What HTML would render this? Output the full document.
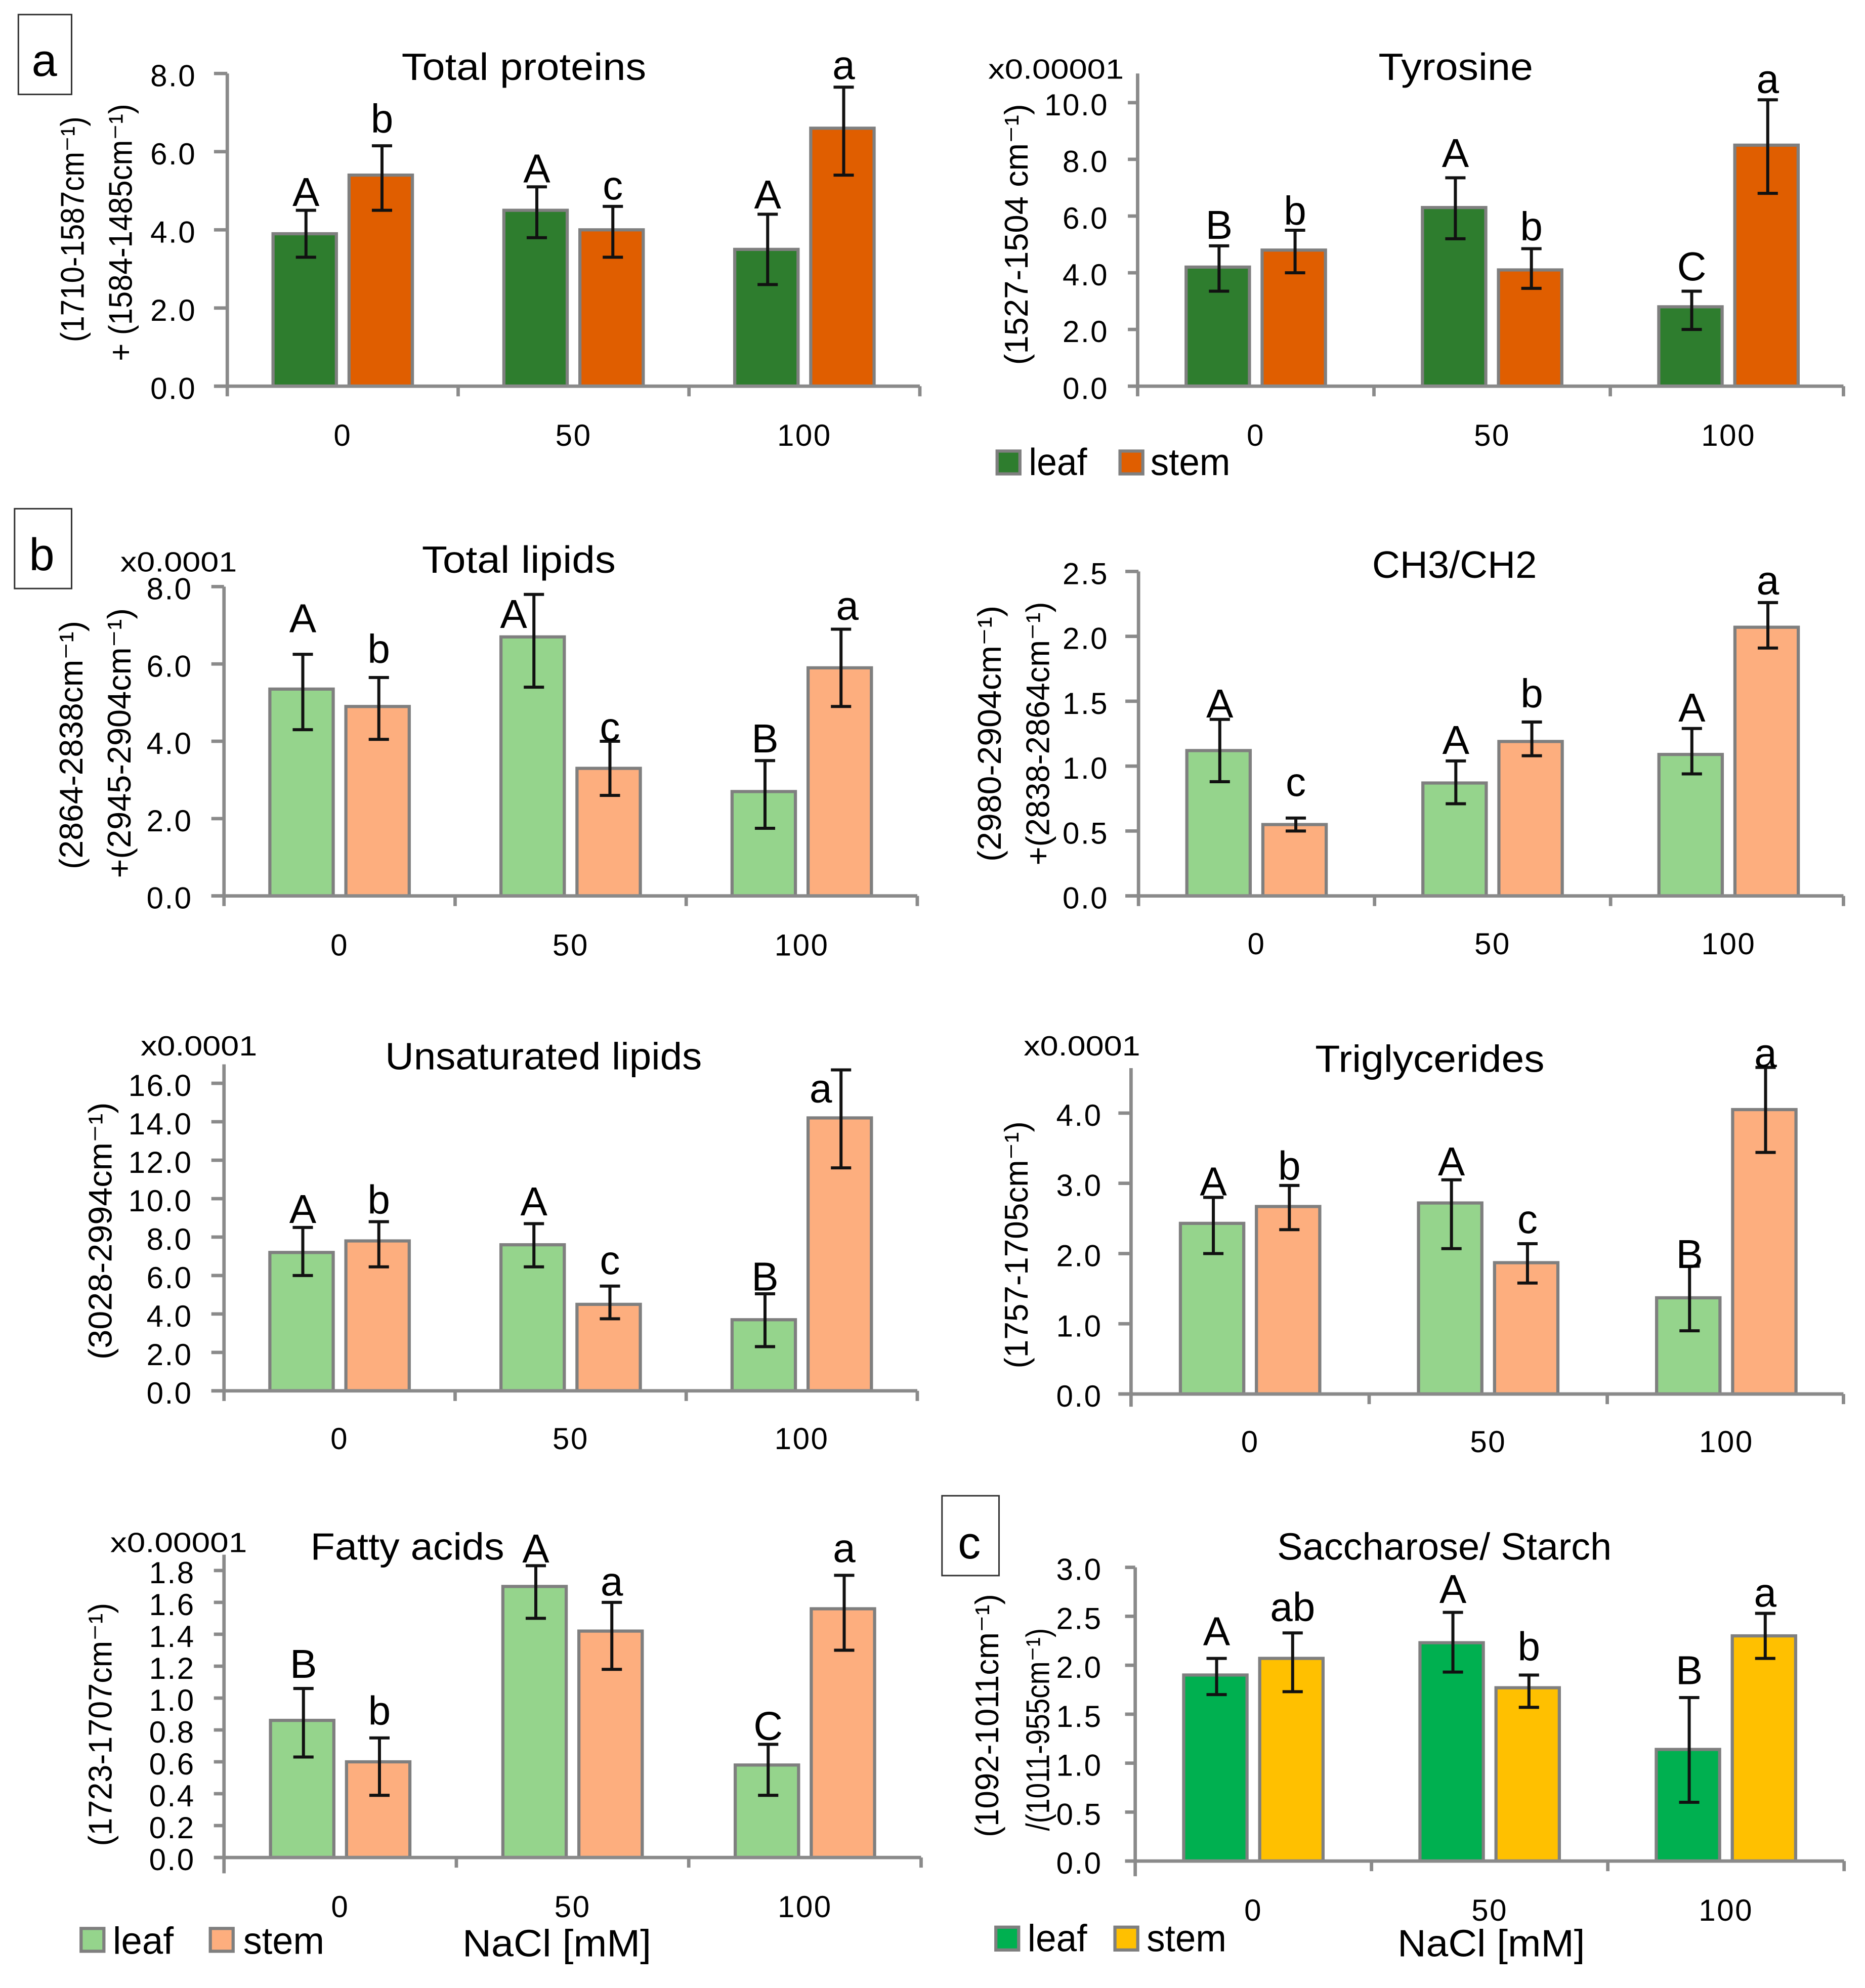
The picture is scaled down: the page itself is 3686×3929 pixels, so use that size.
<!DOCTYPE html>
<html lang="en">
<head>
<meta charset="utf-8">
<title>FTIR band ratios in leaf and stem under NaCl</title>
<style>
html,body{margin:0;padding:0;background:#fff}
svg{display:block}
text{font-family:"Liberation Sans","DejaVu Sans",sans-serif;fill:#000}
.title{font-size:30px}
.ylab{font-size:26px}
.mult{font-size:22px}
.leg{font-size:30px}
.panel-id{font-size:36px}
.tick{font-size:24px;letter-spacing:1px}
.sig{font-size:32px}
</style>
</head>
<body>
<svg id="figure" xmlns="http://www.w3.org/2000/svg" width="3686" height="3929" viewBox="0 0 1472 1569" preserveAspectRatio="none">
  <rect x="0" y="0" width="1472" height="1569" fill="#fff"/>

  <g><rect x="14.5" y="11.5" width="42" height="63" fill="#fff" stroke="#333" stroke-width="1.2"/><text class="panel-id" x="35" y="60" text-anchor="middle">a</text></g>
  <g><rect x="11.5" y="401.5" width="45" height="63" fill="#fff" stroke="#333" stroke-width="1.2"/><text class="panel-id" x="33" y="450" text-anchor="middle">b</text></g>
  <g><rect x="743.5" y="1180.5" width="45" height="63" fill="#fff" stroke="#333" stroke-width="1.2"/><text class="panel-id" x="765" y="1230" text-anchor="middle">c</text></g>

  <g id="total-proteins">
    <text class="title" x="317" y="63" textLength="193" lengthAdjust="spacingAndGlyphs">Total proteins</text>
    <text class="ylab" transform="translate(66,270) rotate(-90)" textLength="178" lengthAdjust="spacingAndGlyphs">(1710-1587cm⁻¹)</text>
    <text class="ylab" transform="translate(104,285) rotate(-90)" textLength="203" lengthAdjust="spacingAndGlyphs">+ (1584-1485cm⁻¹)</text>
  </g>

  <g id="tyrosine">
    <text class="title" x="1088" y="63" textLength="122" lengthAdjust="spacingAndGlyphs">Tyrosine</text>
    <text class="mult" x="780" y="62" textLength="107" lengthAdjust="spacingAndGlyphs">x0.00001</text>
    <text class="ylab" transform="translate(811,288) rotate(-90)" textLength="206" lengthAdjust="spacingAndGlyphs">(1527-1504 cm⁻¹)</text>
  </g>

  <g id="total-lipids">
    <text class="title" x="333" y="452" textLength="153" lengthAdjust="spacingAndGlyphs">Total lipids</text>
    <text class="mult" x="95" y="451" textLength="92" lengthAdjust="spacingAndGlyphs">x0.0001</text>
    <text class="ylab" transform="translate(65,686) rotate(-90)" textLength="196" lengthAdjust="spacingAndGlyphs">(2864-2838cm⁻¹)</text>
    <text class="ylab" transform="translate(103,693) rotate(-90)" textLength="213" lengthAdjust="spacingAndGlyphs">+(2945-2904cm⁻¹)</text>
  </g>

  <g id="ch3-ch2">
    <text class="title" x="1083" y="456" textLength="130" lengthAdjust="spacingAndGlyphs">CH3/CH2</text>
    <text class="ylab" transform="translate(790,680) rotate(-90)" textLength="202" lengthAdjust="spacingAndGlyphs">(2980-2904cm⁻¹)</text>
    <text class="ylab" transform="translate(828,683) rotate(-90)" textLength="208" lengthAdjust="spacingAndGlyphs">+(2838-2864cm⁻¹)</text>
  </g>

  <g id="unsaturated-lipids">
    <text class="title" x="304" y="844" textLength="250" lengthAdjust="spacingAndGlyphs">Unsaturated lipids</text>
    <text class="mult" x="111" y="833" textLength="92" lengthAdjust="spacingAndGlyphs">x0.0001</text>
    <text class="ylab" transform="translate(88,1073) rotate(-90)" textLength="203" lengthAdjust="spacingAndGlyphs">(3028-2994cm⁻¹)</text>
  </g>

  <g id="triglycerides">
    <text class="title" x="1038" y="846" textLength="181" lengthAdjust="spacingAndGlyphs">Triglycerides</text>
    <text class="mult" x="808" y="833" textLength="92" lengthAdjust="spacingAndGlyphs">x0.0001</text>
    <text class="ylab" transform="translate(811,1080) rotate(-90)" textLength="195" lengthAdjust="spacingAndGlyphs">(1757-1705cm⁻¹)</text>
  </g>

  <g id="fatty-acids">
    <text class="title" x="245" y="1231" textLength="153" lengthAdjust="spacingAndGlyphs">Fatty acids</text>
    <text class="mult" x="87" y="1225" textLength="108" lengthAdjust="spacingAndGlyphs">x0.00001</text>
    <text class="ylab" transform="translate(88,1457) rotate(-90)" textLength="192" lengthAdjust="spacingAndGlyphs">(1723-1707cm⁻¹)</text>
  </g>

  <g id="saccharose-starch">
    <text class="title" x="1008" y="1231" textLength="264" lengthAdjust="spacingAndGlyphs">Saccharose/ Starch</text>
    <text class="ylab" transform="translate(788,1450) rotate(-90)" textLength="192" lengthAdjust="spacingAndGlyphs">(1092-1011cm⁻¹)</text>
    <text class="ylab" transform="translate(828,1445) rotate(-90)" textLength="160" lengthAdjust="spacingAndGlyphs">/(1011-955cm⁻¹)</text>
  </g>

  <g>
    <rect x="787" y="356" width="18" height="18" fill="#2e7d2e" stroke="#7f7f7f" stroke-width="2.5"/>
    <text class="leg" x="812" y="375" textLength="46" lengthAdjust="spacingAndGlyphs">leaf</text>
    <rect x="884" y="356" width="18" height="18" fill="#e05e00" stroke="#7f7f7f" stroke-width="2.5"/>
    <text class="leg" x="908" y="375" textLength="63" lengthAdjust="spacingAndGlyphs">stem</text>
  </g>
  <g>
    <rect x="64" y="1522" width="18" height="18" fill="#95d48c" stroke="#7f7f7f" stroke-width="2.5"/>
    <text class="leg" x="89" y="1542" textLength="48" lengthAdjust="spacingAndGlyphs">leaf</text>
    <rect x="166" y="1522" width="18" height="18" fill="#fdae7e" stroke="#7f7f7f" stroke-width="2.5"/>
    <text class="leg" x="192" y="1542" textLength="64" lengthAdjust="spacingAndGlyphs">stem</text>
    <text class="leg" x="365" y="1544" textLength="149" lengthAdjust="spacingAndGlyphs">NaCl [mM]</text>
  </g>
  <g>
    <rect x="786" y="1521" width="18" height="18" fill="#00b050" stroke="#7f7f7f" stroke-width="2.5"/>
    <text class="leg" x="811" y="1540" textLength="47" lengthAdjust="spacingAndGlyphs">leaf</text>
    <rect x="880" y="1521" width="18" height="18" fill="#ffc000" stroke="#7f7f7f" stroke-width="2.5"/>
    <text class="leg" x="905" y="1540" textLength="63" lengthAdjust="spacingAndGlyphs">stem</text>
    <text class="leg" x="1103" y="1544" textLength="148" lengthAdjust="spacingAndGlyphs">NaCl [mM]</text>
  </g>
</svg>

<script>
// ---- shared categories ----
const doseCategories = ['0', '50', '100'];

// ---- Total proteins ----
const proteinTicks = ['0.0', '2.0', '4.0', '6.0', '8.0'];
const proteinLeaf = [3.9, 4.5, 3.5];
const proteinStem = [5.4, 4.0, 6.6];
const proteinLeafHigh = [4.5, 5.1, 4.4];
const proteinLeafLow = [3.3, 3.8, 2.6];
const proteinStemHigh = [6.15, 4.6, 7.65];
const proteinStemLow = [4.5, 3.3, 5.4];
const proteinLeafSig = ['A', 'A', 'A'];
const proteinStemSig = ['b', 'c', 'a'];

// ---- Tyrosine ----
const tyrosineTicks = ['0.0', '2.0', '4.0', '6.0', '8.0', '10.0'];
const tyrosineLeaf = [4.2, 6.3, 2.8];
const tyrosineStem = [4.8, 4.1, 8.5];
const tyrosineLeafHigh = [4.95, 7.35, 3.35];
const tyrosineLeafLow = [3.35, 5.2, 2.0];
const tyrosineStemHigh = [5.5, 4.85, 10.1];
const tyrosineStemLow = [4.0, 3.45, 6.8];
const tyrosineLeafSig = ['B', 'A', 'C'];
const tyrosineStemSig = ['b', 'b', 'a'];

// ---- Total lipids ----
const lipidTicks = ['0.0', '2.0', '4.0', '6.0', '8.0'];
const lipidLeaf = [5.35, 6.7, 2.7];
const lipidStem = [4.9, 3.3, 5.9];
const lipidLeafHigh = [6.25, 7.8, 3.5];
const lipidLeafLow = [4.3, 5.4, 1.75];
const lipidStemHigh = [5.65, 4.0, 6.9];
const lipidStemLow = [4.05, 2.6, 4.9];
const lipidLeafSig = ['A', 'A', 'B'];
const lipidStemSig = ['b', 'c', 'a'];

// ---- CH3/CH2 ----
const chRatioTicks = ['0.0', '0.5', '1.0', '1.5', '2.0', '2.5'];
const chRatioLeaf = [1.12, 0.87, 1.09];
const chRatioStem = [0.55, 1.19, 2.07];
const chRatioLeafHigh = [1.36, 1.04, 1.29];
const chRatioLeafLow = [0.88, 0.71, 0.94];
const chRatioStemHigh = [0.6, 1.34, 2.26];
const chRatioStemLow = [0.5, 1.08, 1.91];
const chRatioLeafSig = ['A', 'A', 'A'];
const chRatioStemSig = ['c', 'b', 'a'];

// ---- Unsaturated lipids ----
const unsatTicks = ['0.0', '2.0', '4.0', '6.0', '8.0', '10.0', '12.0', '14.0', '16.0'];
const unsatLeaf = [7.2, 7.6, 3.7];
const unsatStem = [7.8, 4.5, 14.2];
const unsatLeafHigh = [8.5, 8.7, 5.05];
const unsatLeafLow = [6.0, 6.45, 2.3];
const unsatStemHigh = [8.8, 5.45, 16.7];
const unsatStemLow = [6.45, 3.75, 11.6];
const unsatLeafSig = ['A', 'A', 'B'];
const unsatStemSig = ['b', 'c', 'a'];

// ---- Triglycerides ----
const trigTicks = ['0.0', '1.0', '2.0', '3.0', '4.0'];
const trigLeaf = [2.43, 2.72, 1.37];
const trigStem = [2.67, 1.87, 4.05];
const trigLeafHigh = [2.8, 3.05, 1.82];
const trigLeafLow = [2.0, 2.07, 0.9];
const trigStemHigh = [2.97, 2.14, 4.65];
const trigStemLow = [2.34, 1.58, 3.44];
const trigLeafSig = ['A', 'A', 'B'];
const trigStemSig = ['b', 'c', 'a'];

// ---- Fatty acids ----
const fattyTicks = ['0.0', '0.2', '0.4', '0.6', '0.8', '1.0', '1.2', '1.4', '1.6', '1.8'];
const fattyLeaf = [0.86, 1.7, 0.58];
const fattyStem = [0.6, 1.42, 1.56];
const fattyLeafHigh = [1.06, 1.83, 0.71];
const fattyLeafLow = [0.63, 1.5, 0.39];
const fattyStemHigh = [0.75, 1.6, 1.77];
const fattyStemLow = [0.39, 1.18, 1.3];
const fattyLeafSig = ['B', 'A', 'C'];
const fattyStemSig = ['b', 'a', 'a'];

// ---- Saccharose / Starch ----
const sugarTicks = ['0.0', '0.5', '1.0', '1.5', '2.0', '2.5', '3.0'];
const sugarLeaf = [1.9, 2.23, 1.14];
const sugarStem = [2.07, 1.77, 2.3];
const sugarLeafHigh = [2.07, 2.54, 1.67];
const sugarLeafLow = [1.7, 1.93, 0.6];
const sugarStemHigh = [2.33, 1.9, 2.53];
const sugarStemLow = [1.73, 1.57, 2.07];
const sugarLeafSig = ['A', 'A', 'B'];
const sugarStemSig = ['ab', 'b', 'a'];

const SVG_NS = 'http://www.w3.org/2000/svg';
const AXIS_GREY = '#8a8a8a';
const BAR_EDGE = '#7f7f7f';

function make(tag, attrs, parent) {
  const el = document.createElementNS(SVG_NS, tag);
  for (const k in attrs) el.setAttribute(k, attrs[k]);
  parent.appendChild(el);
  return el;
}

function drawChart(c) {
  const host = document.getElementById(c.id);
  const maxVal = parseFloat(c.ticks[c.ticks.length - 1]);
  const yOf = v => c.y0 - (v / maxVal) * (c.y0 - c.yMaxPx);
  const band = (c.bandEnd - c.x0) / doseCategories.length;
  const xCentre = i => c.x0 + band * (i + 0.5);

  // bars first, then axes on top
  [
    {key: 'leaf', vals: c.leaf, hi: c.leafHigh, lo: c.leafLow, sig: c.leafSig, fill: c.leafColor, off: -30, lift: c.leafLift, nudge: c.leafNudge},
    {key: 'stem', vals: c.stem, hi: c.stemHigh, lo: c.stemLow, sig: c.stemSig, fill: c.stemColor, off: 30, lift: c.stemLift, nudge: c.stemNudge}
  ].forEach(s => {
    doseCategories.forEach((cat, i) => {
      const cx = xCentre(i) + s.off;
      const top = yOf(s.vals[i]);
      const bar = make('rect', {x: cx - 25, y: top, width: 50, height: c.y0 - top, fill: s.fill, stroke: BAR_EDGE, 'stroke-width': 2.5}, host);
      
      

      const hiY = yOf(s.hi[i]);
      const loY = yOf(s.lo[i]);
      const ex = cx + 1;
      const err = make('path', {d: 'M' + (ex - 8) + ' ' + hiY + 'H' + (ex + 8) + 'M' + ex + ' ' + hiY + 'V' + loY + 'M' + (ex - 8) + ' ' + loY + 'H' + (ex + 8), fill: 'none', stroke: '#111', 'stroke-width': 2.4}, host);
      
      

      const lab = make('text', {class: 'sig', x: cx + 1 + (s.nudge ? s.nudge[i] : 0), y: hiY - s.lift[i] - 1.5, 'text-anchor': 'middle'}, host);
      lab.textContent = s.sig[i];
      
      
    });
  });

  const yLine = make('line', {x1: c.x0, x2: c.x0, y1: c.axisTop, y2: c.y0 + c.tickDown, stroke: AXIS_GREY, 'stroke-width': 2.7}, host);
  
  
  const xLine = make('line', {x1: c.x0 - c.tickLeft, x2: c.x1, y1: c.y0, y2: c.y0, stroke: AXIS_GREY, 'stroke-width': 2.7}, host);
  
  

  c.ticks.forEach(t => {
    const y = yOf(parseFloat(t));
    const mark = make('line', {x1: c.x0 - c.tickLeft, x2: c.x0, y1: y, y2: y, stroke: AXIS_GREY, 'stroke-width': 2.7}, host);
    
    
    const label = make('text', {class: 'tick', x: c.tickRight, y: y + 10, 'text-anchor': 'end'}, host);
    label.textContent = t;
    
    
  });

  for (let i = 1; i <= doseCategories.length; i++) {
    const x = i === doseCategories.length ? c.x1 : c.x0 + band * i;
    const mark = make('line', {x1: x, x2: x, y1: c.y0, y2: c.y0 + 8, stroke: AXIS_GREY, 'stroke-width': 2.7}, host);
    
    
  }
  doseCategories.forEach((cat, i) => {
    const label = make('text', {class: 'tick', x: xCentre(i), y: c.y0 + c.catDy, 'text-anchor': 'middle'}, host);
    label.textContent = cat;
    
    
  });
}

const DARK_LEAF = '#2e7d2e', DARK_STEM = '#e05e00';
const PALE_LEAF = '#95d48c', PALE_STEM = '#fdae7e';
const SAT_LEAF = '#00b050', SAT_STEM = '#ffc000';

drawChart({id: 'total-proteins', x0: 179.4, x1: 726, bandEnd: 726, y0: 304.8, yMaxPx: 58, axisTop: 58, tickRight: 155, tickLeft: 10.5, tickDown: 8, catDy: 47,
  ticks: proteinTicks, leaf: proteinLeaf, stem: proteinStem, leafHigh: proteinLeafHigh, leafLow: proteinLeafLow, stemHigh: proteinStemHigh, stemLow: proteinStemLow, leafSig: proteinLeafSig, stemSig: proteinStemSig,
  leafColor: DARK_LEAF, stemColor: DARK_STEM, leafLift: [2, 2, 3], stemLift: [9, 4, 5]});
drawChart({id: 'tyrosine', x0: 897.9, x1: 1455, bandEnd: 1457.5, y0: 304.8, yMaxPx: 81, axisTop: 58, tickRight: 875, tickLeft: 7.7, tickDown: 8, catDy: 47,
  ticks: tyrosineTicks, leaf: tyrosineLeaf, stem: tyrosineStem, leafHigh: tyrosineLeafHigh, leafLow: tyrosineLeafLow, stemHigh: tyrosineStemHigh, stemLow: tyrosineStemLow, leafSig: tyrosineLeafSig, stemSig: tyrosineStemSig,
  leafColor: DARK_LEAF, stemColor: DARK_STEM, leafLift: [4, 7, 7], stemLift: [3, 5, 4]});
drawChart({id: 'total-lipids', x0: 176.8, x1: 724, bandEnd: 724, y0: 707.1, yMaxPx: 463, axisTop: 463, tickRight: 152, tickLeft: 10, tickDown: 8, catDy: 47,
  ticks: lipidTicks, leaf: lipidLeaf, stem: lipidStem, leafHigh: lipidLeafHigh, leafLow: lipidLeafLow, stemHigh: lipidStemHigh, stemLow: lipidStemLow, leafSig: lipidLeafSig, stemSig: lipidStemSig,
  leafColor: PALE_LEAF, stemColor: PALE_STEM, leafLift: [16, -28, 5], stemLift: [10, -1, 6], leafNudge: [0, -16, 0], stemNudge: [0, 0, 5]});
drawChart({id: 'ch3-ch2', x0: 898.6, x1: 1455, bandEnd: 1457.5, y0: 707.1, yMaxPx: 451, axisTop: 451, tickRight: 875, tickLeft: 10.4, tickDown: 8, catDy: 46,
  ticks: chRatioTicks, leaf: chRatioLeaf, stem: chRatioStem, leafHigh: chRatioLeafHigh, leafLow: chRatioLeafLow, stemHigh: chRatioStemHigh, stemLow: chRatioStemLow, leafSig: chRatioLeafSig, stemSig: chRatioStemSig,
  leafColor: PALE_LEAF, stemColor: PALE_STEM, leafLift: [0, 4, 4], stemLift: [16, 10, 5]});
drawChart({id: 'unsaturated-lipids', x0: 176.8, x1: 724, bandEnd: 724, y0: 1097.7, yMaxPx: 855, axisTop: 840, tickRight: 152, tickLeft: 10, tickDown: 8, catDy: 46,
  ticks: unsatTicks, leaf: unsatLeaf, stem: unsatStem, leafHigh: unsatLeafHigh, leafLow: unsatLeafLow, stemHigh: unsatStemHigh, stemLow: unsatStemLow, leafSig: unsatLeafSig, stemSig: unsatStemSig,
  leafColor: PALE_LEAF, stemColor: PALE_STEM, leafLift: [2, 5, 1], stemLift: [5, 8, -27], stemNudge: [0, 0, -16]});
drawChart({id: 'triglycerides', x0: 892.7, x1: 1455, bandEnd: 1456.5, y0: 1100.2, yMaxPx: 878.5, axisTop: 843, tickRight: 870, tickLeft: 10, tickDown: 10, catDy: 46,
  ticks: trigTicks, leaf: trigLeaf, stem: trigStem, leafHigh: trigLeafHigh, leafLow: trigLeafLow, stemHigh: trigStemHigh, stemLow: trigStemLow, leafSig: trigLeafSig, stemSig: trigStemSig,
  leafColor: PALE_LEAF, stemColor: PALE_STEM, leafLift: [0, 2, -3], stemLift: [3, 7, -1]});
drawChart({id: 'fatty-acids', x0: 176.8, x1: 727, bandEnd: 727, y0: 1466, yMaxPx: 1239.5, axisTop: 1227, tickRight: 154, tickLeft: 8, tickDown: 12.5, catDy: 47,
  ticks: fattyTicks, leaf: fattyLeaf, stem: fattyStem, leafHigh: fattyLeafHigh, leafLow: fattyLeafLow, stemHigh: fattyStemHigh, stemLow: fattyStemLow, leafSig: fattyLeafSig, stemSig: fattyStemSig,
  leafColor: PALE_LEAF, stemColor: PALE_STEM, leafLift: [7, 1, 2], stemLift: [9, 4, 9]});
drawChart({id: 'saccharose-starch', x0: 896, x1: 1455.5, bandEnd: 1455.5, y0: 1468.8, yMaxPx: 1237, axisTop: 1237, tickRight: 870, tickLeft: 8, tickDown: 12, catDy: 47,
  ticks: sugarTicks, leaf: sugarLeaf, stem: sugarStem, leafHigh: sugarLeafHigh, leafLow: sugarLeafLow, stemHigh: sugarStemHigh, stemLow: sugarStemLow, leafSig: sugarLeafSig, stemSig: sugarStemSig,
  leafColor: SAT_LEAF, stemColor: SAT_STEM, leafLift: [9, 6, 9], stemLift: [8, 10, 4]});
</script>
</body>
</html>
